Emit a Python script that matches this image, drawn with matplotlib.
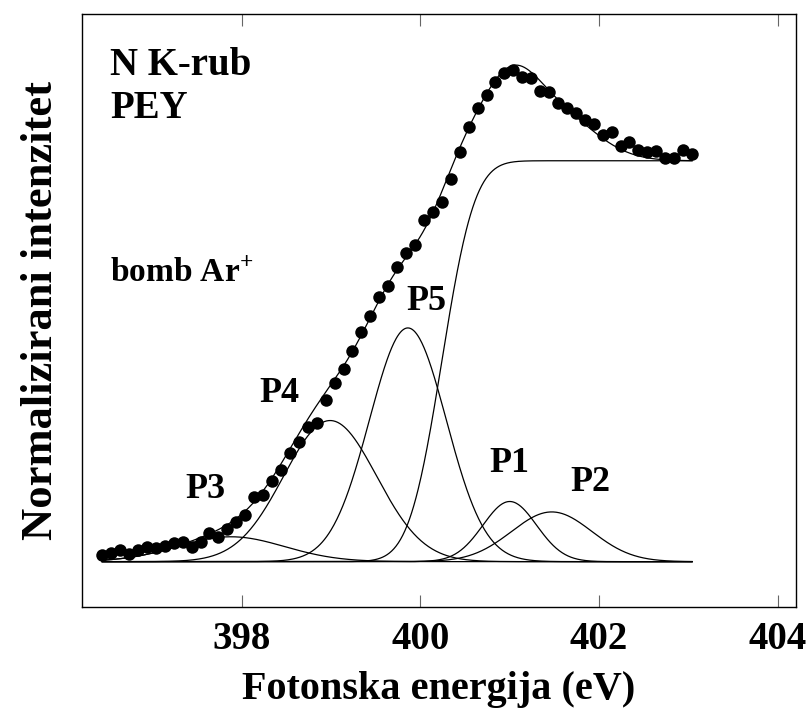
import numpy as np
import matplotlib.pyplot as plt

plt.rcParams['font.family'] = ['Liberation Serif', 'DejaVu Serif']
plt.rcParams['font.weight'] = 'bold'
plt.rcParams['axes.labelweight'] = 'bold'
plt.rcParams['mathtext.fontset'] = 'custom'
plt.rcParams['mathtext.rm'] = 'Liberation Serif:bold'

# measured points (photon energy grid, normalised intensity)
energy = np.linspace(396.44, 403.04, 67)
intensity = [0.017, 0.021, 0.029, 0.019, 0.029, 0.037, 0.035, 0.039, 0.046, 0.049,
             0.037, 0.050, 0.071, 0.062, 0.081, 0.100, 0.116, 0.161, 0.166, 0.202,
             0.229, 0.272, 0.299, 0.337, 0.347, 0.403, 0.445, 0.480, 0.525, 0.573,
             0.613, 0.661, 0.688, 0.736, 0.769, 0.790, 0.852, 0.873, 0.898, 0.955,
             1.022, 1.085, 1.131, 1.164, 1.197, 1.218, 1.226, 1.209, 1.207, 1.174,
             1.171, 1.145, 1.132, 1.118, 1.101, 1.091, 1.064, 1.071, 1.037, 1.047,
             1.028, 1.022, 1.025, 1.007, 1.008, 1.027, 1.017]

# fitted gaussian peaks
peak_names = ['P1', 'P2', 'P3', 'P4', 'P5']
peak_center = [401.00, 401.47, 397.88, 398.99, 399.86]
peak_height = [0.150, 0.124, 0.062, 0.352, 0.583]
peak_sigma = [0.30, 0.45, 0.60, 0.52, 0.43]

# absorption edge (step)
edge_pos = 400.24
edge_width = 0.29
edge_height = 1.0

label_xy = {'P1': (401.0, 0.245), 'P2': (401.9, 0.197), 'P3': (397.6, 0.18),
            'P4': (398.42, 0.42), 'P5': (400.07, 0.65)}


def erf(x):
    # Abramowitz-Stegun approximation
    s = np.sign(x)
    x = np.abs(x)
    t = 1.0 / (1.0 + 0.3275911 * x)
    y = 1 - (((((1.061405429 * t - 1.453152027) * t) + 1.421413741) * t
              - 0.284496736) * t + 0.254829592) * t * np.exp(-x * x)
    return s * y


e = np.linspace(energy[0], energy[-1], 800)
step = edge_height * 0.5 * (1 + erf((e - edge_pos) / (edge_width * np.sqrt(2))))
comps = []
for c, h, s in zip(peak_center, peak_height, peak_sigma):
    comps.append(h * np.exp(-(e - c) ** 2 / (2 * s ** 2)))
total = step + np.sum(comps, axis=0)

fig = plt.figure(figsize=(8.08, 7.09), dpi=100)
ax = fig.add_axes([0.1011, 0.1434, 0.8837, 0.8368])

ax.plot(e, step, color='black', lw=0.9)
for comp in comps:
    ax.plot(e, comp, color='black', lw=0.9)
ax.plot(e, total, color='black', lw=0.9)
ax.plot(energy, intensity, 'o', color='black', markersize=9, markeredgewidth=0)

for name in peak_names:
    x, y = label_xy[name]
    ax.text(x, y, name, fontsize=26, ha='center', va='center')

ax.text(0.04, 0.913, 'N K-rub', transform=ax.transAxes, fontsize=28, va='center')
ax.text(0.04, 0.84, 'PEY', transform=ax.transAxes, fontsize=28, va='center')
ax.text(0.04, 0.563, r'bomb Ar$^{+}$', transform=ax.transAxes, fontsize=24, va='center')

ax.set_xlim(396.21, 404.2)
ax.set_ylim(-0.114, 1.366)
ax.set_xticks([398, 400, 402, 404])
ax.set_yticks([])
ax.tick_params(axis='x', direction='in', length=8.6, width=0.8, color='#666666',
               top=True, labelsize=28, pad=10)
for sp in ax.spines.values():
    sp.set_linewidth(1.0)

ax.set_xlabel('Fotonska energija (eV)', fontsize=29, labelpad=9)
ax.set_ylabel('Normalizirani intenzitet', fontsize=32, labelpad=15)

fig.savefig('out.png', dpi=100)
